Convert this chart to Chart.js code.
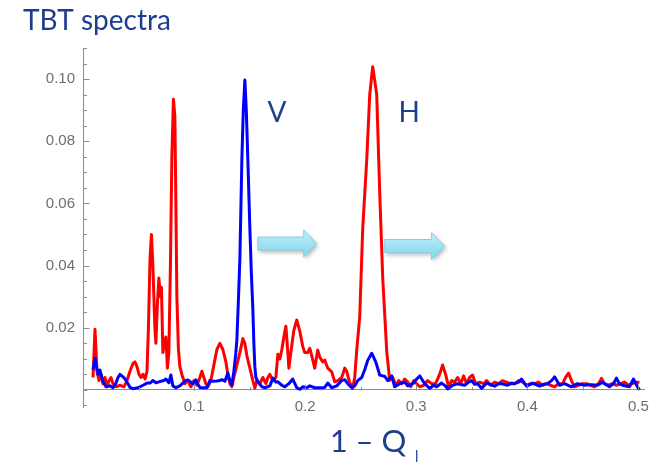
<!DOCTYPE html>
<html><head><meta charset="utf-8">
<script src="https://cdn.jsdelivr.net/npm/chart.js@4/dist/chart.umd.min.js"></script>
<style>html,body{margin:0;padding:0;background:#fff}#wrap{width:657px;height:462px;position:relative}</style>
</head><body><div id="wrap"><canvas id="c" width="657" height="462"></canvas></div>
<script>
// ---- data ----
const chartTitle = 'TBT spectra';
const xAxisTitle = '1 \u2013 Q';
const xAxisSub = '\u22A5';
const redLabel = 'H';
const blueLabel = 'V';

const redX = [0.0090,0.0108,0.0126,0.0144,0.0162,0.0180,0.0198,0.0216,0.0234,0.0252,0.0270,0.0297,0.0333,0.0369,0.0396,0.0423,0.0450,0.0468,0.0486,0.0504,0.0522,0.0540,0.0558,0.0576,0.0589,0.0603,0.0616,0.0629,0.0647,0.0656,0.0670,0.0683,0.0697,0.0706,0.0719,0.0733,0.0746,0.0760,0.0773,0.0787,0.0800,0.0814,0.0827,0.0836,0.0845,0.0859,0.0872,0.0890,0.0917,0.0944,0.0971,0.0998,0.1025,0.1052,0.1070,0.1088,0.1106,0.1124,0.1151,0.1178,0.1205,0.1232,0.1259,0.1286,0.1304,0.1322,0.1340,0.1358,0.1385,0.1412,0.1439,0.1457,0.1475,0.1502,0.1529,0.1547,0.1565,0.1592,0.1619,0.1646,0.1664,0.1682,0.1709,0.1736,0.1754,0.1772,0.1790,0.1808,0.1826,0.1844,0.1853,0.1871,0.1897,0.1924,0.1951,0.1978,0.1996,0.2023,0.2041,0.2059,0.2086,0.2113,0.2131,0.2158,0.2176,0.2203,0.2239,0.2266,0.2293,0.2329,0.2356,0.2374,0.2401,0.2428,0.2446,0.2464,0.2491,0.2518,0.2554,0.2581,0.2608,0.2644,0.2671,0.2698,0.2734,0.2761,0.2788,0.2815,0.2842,0.2869,0.2896,0.2923,0.2950,0.2977,0.3004,0.3031,0.3067,0.3103,0.3138,0.3174,0.3210,0.3237,0.3264,0.3291,0.3318,0.3345,0.3372,0.3399,0.3426,0.3453,0.3480,0.3507,0.3534,0.3570,0.3606,0.3633,0.3669,0.3705,0.3741,0.3777,0.3813,0.3849,0.3885,0.3921,0.3957,0.3993,0.4029,0.4065,0.4101,0.4137,0.4173,0.4209,0.4245,0.4281,0.4317,0.4344,0.4371,0.4397,0.4424,0.4460,0.4496,0.4532,0.4568,0.4604,0.4640,0.4667,0.4694,0.4730,0.4766,0.4802,0.4838,0.4874,0.4910,0.4946,0.4982,0.5009];
const redY = [0.004,0.0195,0.006,0.003,0.005,0.002,0.004,0.001,0.003,0.004,0.002,0.001,0.0015,0.001,0.003,0.006,0.0085,0.009,0.0075,0.005,0.004,0.005,0.0035,0.006,0.02,0.042,0.050,0.040,0.020,0.015,0.028,0.036,0.030,0.033,0.012,0.015,0.017,0.007,0.012,0.040,0.075,0.0935,0.088,0.060,0.030,0.013,0.0075,0.005,0.002,0.003,0.001,0.003,0.0015,0.004,0.006,0.004,0.002,0.001,0.003,0.008,0.013,0.015,0.013,0.009,0.005,0.002,0.001,0.004,0.008,0.012,0.0165,0.015,0.011,0.007,0.003,0.0006,0.003,0.002,0.004,0.002,0.004,0.005,0.003,0.004,0.0115,0.010,0.013,0.017,0.0205,0.012,0.007,0.012,0.019,0.0225,0.019,0.014,0.012,0.012,0.0134,0.011,0.007,0.0128,0.0106,0.009,0.0096,0.007,0.0058,0.0026,0.003,0.004,0.007,0.006,0.0023,0.0005,0.004,0.0128,0.0235,0.052,0.074,0.095,0.104,0.095,0.0634,0.036,0.0125,0.003,0.004,0.0015,0.003,0.002,0.0035,0.0025,0.001,0.003,0.002,0.001,0.0015,0.003,0.002,0.002,0.005,0.008,0.005,0.001,0.003,0.0025,0.004,0.002,0.0045,0.002,0.004,0.0048,0.002,0.0025,0.002,0.003,0.0015,0.0025,0.002,0.003,0.0025,0.002,0.002,0.003,0.0025,0.0015,0.002,0.002,0.0025,0.0015,0.002,0.0015,0.001,0.002,0.002,0.004,0.0054,0.003,0.001,0.0015,0.002,0.002,0.0015,0.001,0.002,0.0037,0.002,0.0015,0.002,0.0015,0.002,0.0025,0.0015,0.002,0.0025,0.0025];

const blueX = [0.0090,0.0108,0.0135,0.0153,0.0180,0.0207,0.0243,0.0270,0.0297,0.0315,0.0333,0.0360,0.0378,0.0405,0.0423,0.0450,0.0495,0.0540,0.0576,0.0603,0.0629,0.0656,0.0683,0.0701,0.0728,0.0746,0.0773,0.0791,0.0809,0.0836,0.0872,0.0899,0.0917,0.0944,0.0971,0.0989,0.1016,0.1034,0.1052,0.1079,0.1115,0.1142,0.1169,0.1205,0.1232,0.1250,0.1277,0.1304,0.1322,0.1340,0.1358,0.1376,0.1385,0.1398,0.1412,0.1421,0.1430,0.1443,0.1457,0.1470,0.1484,0.1502,0.1515,0.1529,0.1538,0.1547,0.1556,0.1574,0.1610,0.1637,0.1682,0.1709,0.1736,0.1754,0.1790,0.1817,0.1853,0.1888,0.1924,0.1951,0.1978,0.2014,0.2041,0.2086,0.2131,0.2176,0.2203,0.2239,0.2284,0.2329,0.2356,0.2383,0.2419,0.2446,0.2473,0.2509,0.2536,0.2563,0.2599,0.2635,0.2671,0.2698,0.2716,0.2743,0.2779,0.2806,0.2851,0.2896,0.2923,0.2968,0.3004,0.3031,0.3076,0.3121,0.3156,0.3183,0.3228,0.3264,0.3282,0.3327,0.3372,0.3435,0.3471,0.3498,0.3525,0.3552,0.3588,0.3633,0.3669,0.3705,0.3741,0.3768,0.3822,0.3858,0.3885,0.3921,0.3948,0.3993,0.4047,0.4110,0.4146,0.4182,0.4218,0.4245,0.4290,0.4335,0.4397,0.4451,0.4514,0.4577,0.4631,0.4676,0.4739,0.4775,0.4802,0.4829,0.4856,0.4919,0.4955,0.4991,0.5009];
const blueY = [0.0065,0.0102,0.005,0.0064,0.0026,0.001,0.0013,0.0007,0.0022,0.004,0.005,0.0042,0.0035,0.002,0.0008,0.0004,0.0007,0.0015,0.0022,0.0022,0.003,0.0023,0.0026,0.0028,0.003,0.0035,0.0023,0.0048,0.0013,0.0007,0.0013,0.0022,0.0028,0.0032,0.0025,0.002,0.0032,0.0018,0.0008,0.0007,0.0007,0.003,0.0028,0.0029,0.003,0.0033,0.0028,0.0054,0.003,0.0016,0.006,0.012,0.016,0.028,0.042,0.058,0.074,0.090,0.0997,0.090,0.074,0.052,0.038,0.026,0.015,0.0074,0.004,0.0026,0.001,0.0007,0.0013,0.0038,0.0025,0.0026,0.0015,0.001,0.002,0.0035,0.0007,0.0002,0.001,0.0007,0.0013,0.0007,0.0007,0.0008,0.0022,0.0007,0.0013,0.003,0.0033,0.002,0.0007,0.0013,0.003,0.004,0.0065,0.0095,0.0118,0.009,0.0048,0.0045,0.0044,0.003,0.0045,0.001,0.002,0.0025,0.0013,0.002,0.0035,0.0045,0.002,0.0005,0.0015,0.001,0.0022,0.0012,0.0003,0.0015,0.002,0.0015,0.0025,0.003,0.0018,0.002,0.0005,0.0022,0.0017,0.0012,0.002,0.002,0.0015,0.0022,0.002,0.0025,0.0035,0.0012,0.0022,0.0012,0.0018,0.002,0.003,0.0042,0.0015,0.002,0.001,0.002,0.0015,0.0017,0.0015,0.0025,0.001,0.002,0.0038,0.002,0.0015,0.001,0.0035,0.001,0.0];

// axis ranges and tick steps
const xRange = [0, 0.505];
const yRange = [-0.0055, 0.11];
const xStep = 0.05;
const yStep = 0.005;

// annotations, in data coordinates
const peakLabels = [{text: blueLabel, x: 0.1745, y: 0.089}, {text: redLabel, x: 0.2936, y: 0.089}];
const arrows = [{x0: 0.1574, x1: 0.2104, y: 0.0471}, {x0: 0.2716, x1: 0.3255, y: 0.0463}];

// ---- drawing ----
const NAVY = '#1d3d8e';
const AXIS = '#8c8c8c';
const TICKTXT = '#6e6e6e';

const toPts = (xs, ys) => xs.map((x, i) => ({x: x, y: ys[i]}));
const isMajorX = v => { const m = Math.round(v * 1000); return m > 0 && m % 100 === 0; };
const isMajorY = v => { const m = Math.round(v * 1000); return m > 0 && m % 20 === 0; };

function drawArrow(ctx, x0, x1, yc) {
  const bodyH = 6.5, headH = 13.5, headL = 13;
  ctx.save();
  ctx.beginPath();
  ctx.moveTo(x0, yc - bodyH);
  ctx.lineTo(x1 - headL, yc - bodyH);
  ctx.lineTo(x1 - headL, yc - headH);
  ctx.lineTo(x1, yc);
  ctx.lineTo(x1 - headL, yc + headH);
  ctx.lineTo(x1 - headL, yc + bodyH);
  ctx.lineTo(x0, yc + bodyH);
  ctx.closePath();
  const g = ctx.createLinearGradient(0, yc - headH, 0, yc + headH);
  g.addColorStop(0, '#c4eff9');
  g.addColorStop(0.5, '#9fe2f3');
  g.addColorStop(1, '#86d6ec');
  ctx.shadowColor = 'rgba(0,0,0,0.28)';
  ctx.shadowBlur = 4;
  ctx.shadowOffsetX = 1.5;
  ctx.shadowOffsetY = 2.5;
  ctx.fillStyle = g;
  ctx.fill();
  ctx.shadowColor = 'transparent';
  ctx.strokeStyle = '#86cfe3';
  ctx.lineWidth = 1;
  ctx.stroke();
  ctx.restore();
}

const decorPlugin = {
  id: 'decor',
  afterDraw(chart) {
    const ctx = chart.ctx;
    const xs = chart.scales.x, ys = chart.scales.y;
    const x0pix = ys.getPixelForValue(0);
    ctx.save();
    // inward tick marks from the scales' own ticks
    ctx.strokeStyle = AXIS;
    ctx.lineWidth = 1;
    const axisX = Math.round(chart.chartArea.left) + 0.5;
    ys.ticks.forEach(t => {
      const p = Math.round(ys.getPixelForValue(t.value)) + 0.5;
      const len = isMajorY(t.value) ? 6 : 3.5;
      ctx.beginPath(); ctx.moveTo(axisX, p); ctx.lineTo(axisX + len, p); ctx.stroke();
    });
    const axisY = Math.round(x0pix) + 0.5;
    xs.ticks.forEach(t => {
      if (t.value <= 0) return;
      const p = Math.round(xs.getPixelForValue(t.value)) + 0.5;
      const len = isMajorX(t.value) ? 6 : 3.5;
      ctx.beginPath(); ctx.moveTo(p, axisY); ctx.lineTo(p, axisY - len); ctx.stroke();
    });
    // arrows
    arrows.forEach(a => drawArrow(ctx, xs.getPixelForValue(a.x0), xs.getPixelForValue(a.x1), ys.getPixelForValue(a.y)));
    // peak labels
    ctx.fillStyle = NAVY;
    ctx.font = '28px Lato';
    ctx.textAlign = 'center';
    ctx.textBaseline = 'middle';
    peakLabels.forEach(l => ctx.fillText(l.text, xs.getPixelForValue(l.x), ys.getPixelForValue(l.y)));
    // chart title
    ctx.textAlign = 'left';
    ctx.textBaseline = 'alphabetic';
    ctx.font = '28px Lato';
    ctx.fillText(chartTitle, 23, 30);
    // x axis title with subscript
    ctx.font = '31px Lato';
    const w1 = ctx.measureText(xAxisTitle).width;
    ctx.font = '20px Lato';
    const w2 = ctx.measureText(xAxisSub).width;
    const cx = (chart.chartArea.left + chart.chartArea.right) / 2 + 14;
    const sx = cx - (w1 + w2 + 2) / 2;
    ctx.font = '31px Lato';
    ctx.fillText(xAxisTitle, sx, 452);
    ctx.font = '20px Lato';
    ctx.fillText(xAxisSub, sx + w1 + 2, 464);
    ctx.restore();
  }
};

new Chart(document.getElementById('c').getContext('2d'), {
  type: 'line',
  data: {
    datasets: [
      {label: redLabel, data: toPts(redX, redY), borderColor: '#ff0000', backgroundColor: '#ff0000', borderWidth: 3, pointRadius: 0, tension: 0, order: 2, borderJoinStyle: 'round'},
      {label: blueLabel, data: toPts(blueX, blueY), borderColor: '#0000ff', backgroundColor: '#0000ff', borderWidth: 3, pointRadius: 0, tension: 0, order: 1, borderJoinStyle: 'round'}
    ]
  },
  options: {
    responsive: false,
    animation: false,
    devicePixelRatio: 1,
    layout: {padding: {left: 0, top: 48, right: 12, bottom: 55}},
    plugins: {legend: {display: false}, tooltip: {enabled: false}, title: {display: false}},
    scales: {
      x: {
        type: 'linear', position: {y: 0}, min: xRange[0], max: xRange[1],
        grid: {drawOnChartArea: false, drawTicks: false},
        border: {display: true, color: AXIS, width: 1},
        ticks: {
          stepSize: xStep, includeBounds: false, autoSkip: false, maxRotation: 0, minRotation: 0,
          padding: 8, color: TICKTXT, font: {family: 'Liberation Sans', size: 15},
          callback: v => isMajorX(v) ? (Math.round(v * 10) / 10).toFixed(1) : ''
        }
      },
      y: {
        type: 'linear', position: 'left', min: yRange[0], max: yRange[1],
        grid: {drawOnChartArea: false, drawTicks: false},
        border: {display: true, color: AXIS, width: 1},
        ticks: {
          stepSize: yStep, includeBounds: false, autoSkip: false,
          padding: 8, color: TICKTXT, font: {family: 'Liberation Sans', size: 15},
          callback: v => isMajorY(v) ? (Math.round(v * 100) / 100).toFixed(2) : ''
        },
        afterFit: s => { s.width = 83; }
      }
    }
  },
  plugins: [decorPlugin]
});
</script>
</body></html>
